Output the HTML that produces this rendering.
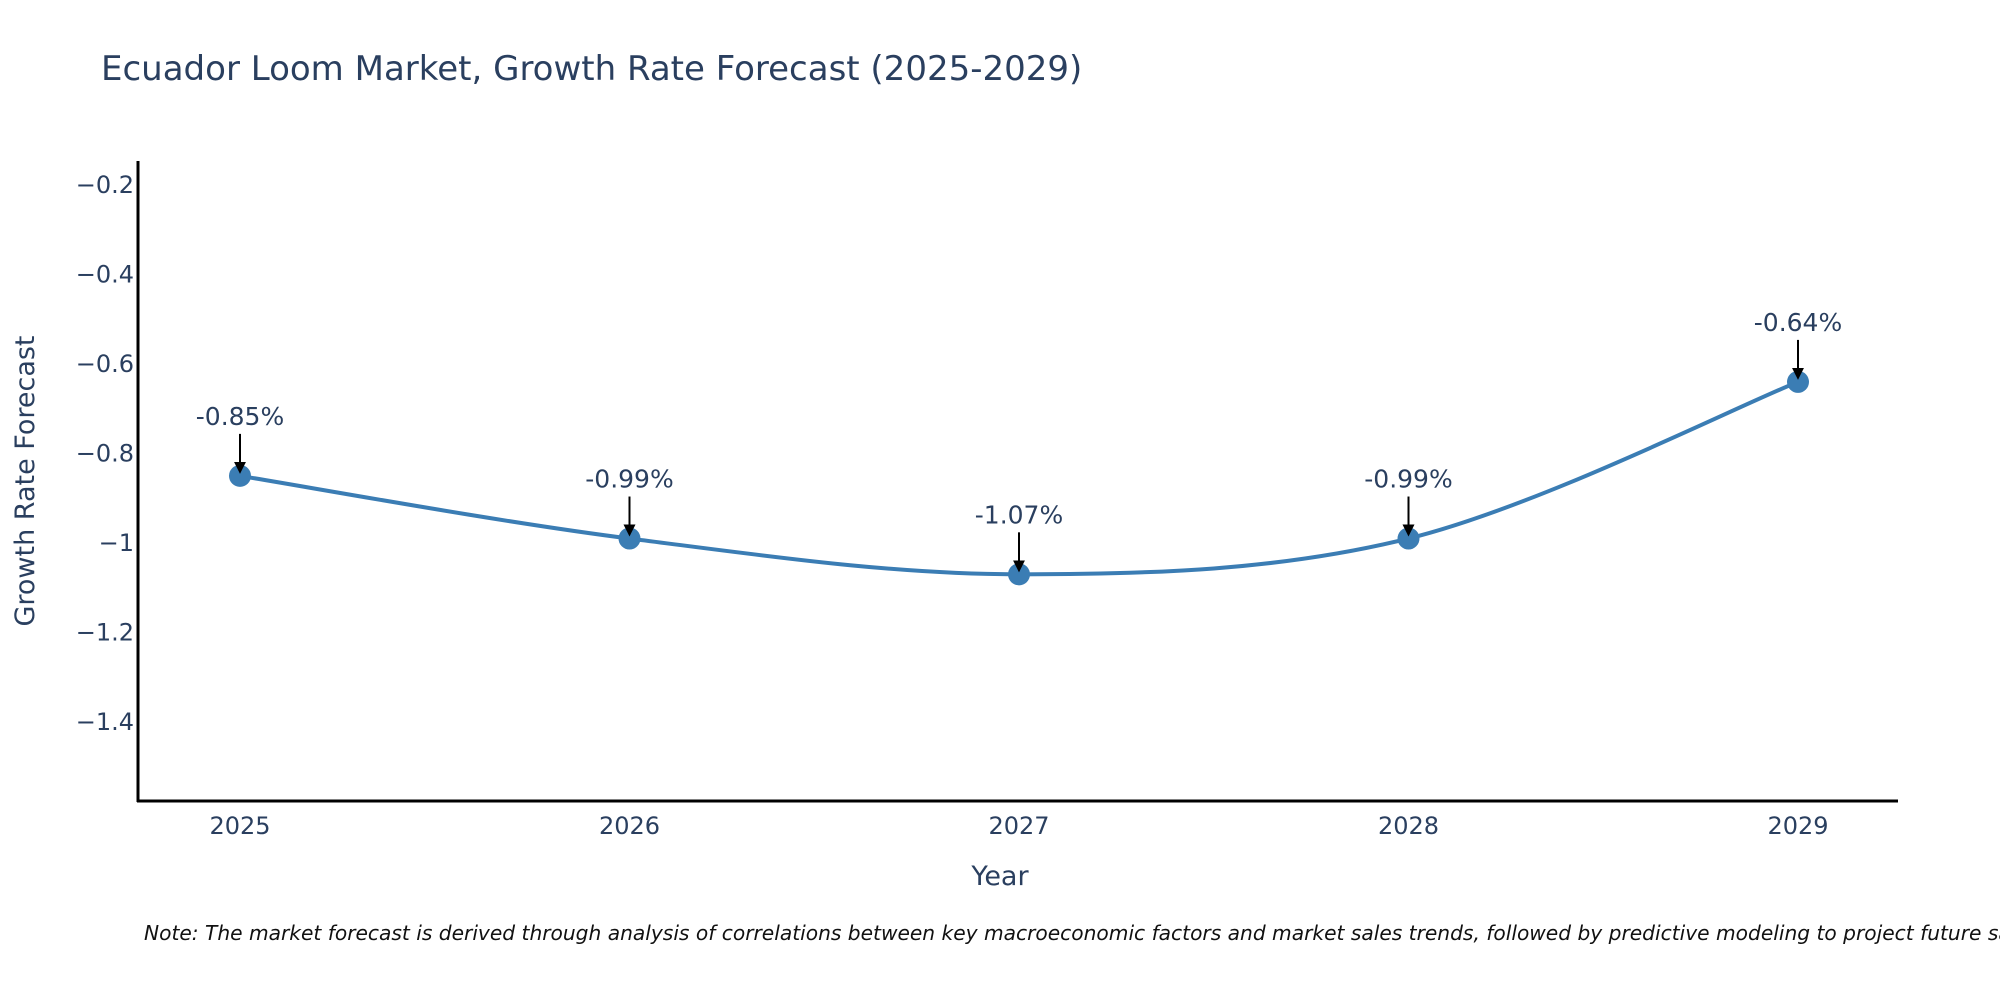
<!DOCTYPE html>
<html><head><meta charset="utf-8"><style>
body{margin:0;background:#fff;width:2000px;height:1000px;overflow:hidden}
svg text{font-family:"DejaVu Sans","Liberation Sans",sans-serif;fill:#2a3f5f}
</style></head><body>
<svg id="chart" width="2000" height="1000">
<text x="101" y="80" font-size="34">Ecuador Loom Market, Growth Rate Forecast (2025-2029)</text>
<g id="yticks"></g><g id="xticks"></g>
<line x1="138" y1="161" x2="138" y2="802" stroke="#000" stroke-width="3"/>
<line x1="137" y1="801" x2="1898" y2="801" stroke="#000" stroke-width="3"/>
<path id="line" fill="none" stroke="#3b7db4" stroke-width="4"/>
<g id="marks"></g>
<text x="1000" y="885" font-size="27" text-anchor="middle">Year</text>
<text transform="translate(34,481) rotate(-90)" font-size="27" text-anchor="middle">Growth Rate Forecast</text>
<text x="144" y="940" font-size="20.2" font-style="italic" style="fill:#111">Note: The market forecast is derived through analysis of correlations between key macroeconomic factors and market sales trends, followed by predictive modeling to project future sales.</text>
<defs><marker id="ah" markerWidth="6" markerHeight="6" refX="5" refY="3" orient="auto" markerUnits="strokeWidth"><path d="M0,0 L6,3 L0,6 z" fill="#000"/></marker></defs>
</svg>
<script>
const years=[2025,2026,2027,2028,2029];
const values=[-0.85,-0.99,-1.07,-0.99,-0.64];
const labels=["-0.85%","-0.99%","-1.07%","-0.99%","-0.64%"];
const yTickVals=[-0.2,-0.4,-0.6,-0.8,-1,-1.2,-1.4];
const yTickLabels=["\u22120.2","\u22120.4","\u22120.6","\u22120.8","\u22121","\u22121.2","\u22121.4"];
const NS="http://www.w3.org/2000/svg";
function X(v){return 240+(v-2025)*389.5;}
function Y(v){return 185+(-0.2-v)/0.2*89.5;}
function mk(t,a,p){const e=document.createElementNS(NS,t);for(const k in a)e.setAttribute(k,a[k]);p.appendChild(e);return e;}
const yt=document.getElementById('yticks'),xt=document.getElementById('xticks'),mg=document.getElementById('marks');
yTickVals.forEach((v,i)=>{const t=mk('text',{x:134,y:Y(v)+8,'font-size':24,'text-anchor':'end'},yt);t.textContent=yTickLabels[i];

});
years.forEach(y=>{const t=mk('text',{x:X(y),y:834,'font-size':24,'text-anchor':'middle'},xt);t.textContent=y;

});
const P=years.map((y,i)=>[X(y),Y(values[i])]);
let d='M'+P[0][0]+','+P[0][1];
for(let i=0;i<P.length-1;i++){const p0=P[i-1]||P[i],p1=P[i],p2=P[i+1],p3=P[i+2]||P[i+1];const s=6;
d+=` C${p1[0]+(p2[0]-p0[0])/s},${p1[1]+(p2[1]-p0[1])/s} ${p2[0]-(p3[0]-p1[0])/s},${p2[1]-(p3[1]-p1[1])/s} ${p2[0]},${p2[1]}`;}
document.getElementById('line').setAttribute('d',d);
P.forEach((p,i)=>{const c=mk('circle',{cx:p[0],cy:p[1],r:11,fill:'#3b7db4'},mg);


const l=mk('line',{x1:p[0],y1:p[1]-42,x2:p[0],y2:p[1]-4,stroke:'#000','stroke-width':2,'marker-end':'url(#ah)'},mg);


const t=mk('text',{x:p[0],y:p[1]-51,'font-size':25,'text-anchor':'middle'},mg);t.textContent=labels[i];

});
</script>
</body></html>
